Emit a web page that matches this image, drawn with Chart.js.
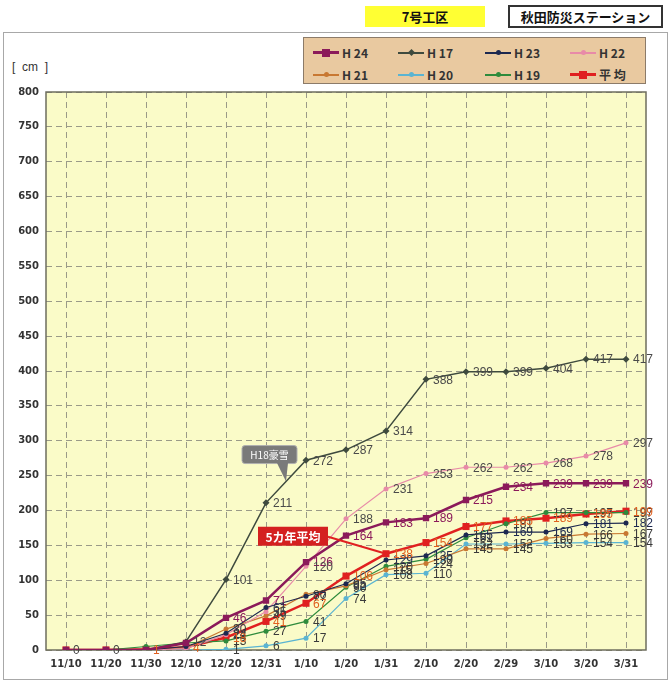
<!DOCTYPE html>
<html lang="ja">
<head>
<meta charset="utf-8" />
<script src="https://cdn.jsdelivr.net/npm/chart.js@4.4.1/dist/chart.umd.min.js"></script>
<style>
  body { margin:0; width:670px; height:682px; background:#fff; position:relative; overflow:hidden;
         font-family:"Liberation Sans", Arial, sans-serif; }
  #frame { position:absolute; left:3px; top:32px; width:665px; height:648px; border:1px solid #a8a8a8; box-sizing:border-box; }
  #kouku { position:absolute; left:365px; top:6px; width:120px; height:21px; background:#ffff33;
           font:bold 13px "Noto Sans CJK JP"; text-align:center; line-height:21px; color:#111; }
  #station { position:absolute; left:508px; top:5px; width:155px; height:23px; border:2px solid #333; box-sizing:border-box;
             font:bold 13px "Noto Sans CJK JP"; text-align:center; line-height:19px; color:#111; background:#fff; }
  #unit { position:absolute; left:12px; top:60px; font-size:12px; color:#333; white-space:pre; }
  #legend { position:absolute; left:303px; top:37px; width:343px; height:47px; background:#e9c9a0;
            border:1px solid #8c7b69; box-sizing:border-box; z-index:2; }
  .item { position:absolute; height:14px; }
  .item .ln { position:absolute; left:0; top:7px; width:26px; }
  .item .mk { position:absolute; }
  .item .tx { position:absolute; left:29px; top:-1px; font:bold 12px "Noto Sans CJK JP", "Liberation Sans"; color:#333; white-space:pre; }
  #chartBox { position:absolute; left:0; top:0; width:670px; height:682px; z-index:1; }
</style>
</head>
<body>
<div id="frame"></div>
<div id="kouku">7号工区</div>
<div id="station">秋田防災ステーション</div>
<div id="unit">[  cm  ]</div>
<div id="legend"></div>
<div id="chartBox"><canvas id="myChart" width="670" height="682"></canvas></div>

<script>
// 時期(横軸)
var xLabels = ['11/10','11/20','11/30','12/10','12/20','12/31','1/10','1/20','1/31','2/10','2/20','2/29','3/10','3/20','3/31'];

// 各年の積雪深 [cm]
var h24 = [0,0,0,10,46,71,126,164,183,189,215,234,239,239,239];
var h17 = [0,0,0,12,101,211,272,287,314,388,399,399,404,417,417];
var h23 = [0,0,0,5,24,61,77,95,129,135,165,169,169,181,182];
var h22 = [0,0,0,2,22,55,120,188,231,253,262,262,268,278,297];
var h21 = [0,0,0,3,30,49,80,92,115,124,145,145,160,166,167];
var h20 = [0,0,0,0,1,6,17,74,108,110,152,152,153,154,154];
var h19 = [0,0,5,10,13,27,41,90,120,130,161,181,197,197,197];
var avg5 = [0,0,1,4,18,41,67,106,138,154,177,185,189,195,199];

var seriesNames = ['H 24','H 17','H 23','H 22','H 21','H 20','H 19','平 均'];
var seriesData = [h24,h17,h23,h22,h21,h20,h19,avg5];
var yTicksMax = 800, yTicksStep = 50;

// 見た目
var colors    = ['#8b1a5a','#3e4a3e','#1c2850','#e88aa8','#c87832','#5ab4d2','#2e8b3c','#e02020'];
var lblColors = ['#8b1a5a','#4a4a4a','#1c2850','#4a4a4a','#3a3a3a','#3a3a3a','#3a3a3a','#e06020'];
var styles    = ['rect','rectRot','circle','circle','circle','circle','circle','rect'];
var radii     = [4.5,3.5,2.5,2.5,2.5,2.5,2.5,5];
var widths    = [2.5,1.5,1.2,1.2,1.2,1.2,1.2,2.5];
var labelFrom = [4,3,4,4,4,4,4,0];
var tickFont  = { size: 10, weight: 'bold', family: '"DejaVu Sans", sans-serif' };

// 凡例 (HTML)
var leg = document.getElementById('legend');
var colX = [9, 94, 181, 266], rowY = [7, 29];
seriesNames.forEach(function (n, i) {
    var it = document.createElement('div');
    it.className = 'item';
    it.style.left = colX[i % 4] + 'px';
    it.style.top = rowY[Math.floor(i / 4)] + 'px';
    var ln = document.createElement('div');
    ln.className = 'ln';
    ln.style.height = widths[i] > 2 ? '3px' : '1.5px';
    ln.style.marginTop = widths[i] > 2 ? '-1px' : '0';
    ln.style.background = colors[i];
    var mk = document.createElement('div');
    mk.className = 'mk';
    var s = styles[i] == 'rect' ? 8 : 5;
    mk.style.width = s + 'px'; mk.style.height = s + 'px';
    mk.style.left = (13 - s / 2) + 'px'; mk.style.top = (7.5 - s / 2) + 'px';
    mk.style.background = colors[i];
    if (styles[i] == 'circle') mk.style.borderRadius = '50%';
    if (styles[i] == 'rectRot') mk.style.transform = 'rotate(45deg)';
    var tx = document.createElement('div');
    tx.className = 'tx';
    tx.textContent = n;
    it.appendChild(ln); it.appendChild(mk); it.appendChild(tx);
    leg.appendChild(it);
});

// 背景と枠
var areaPlugin = {
    id: 'area',
    beforeDraw: function (chart) {
        var a = chart.chartArea, c = chart.ctx;
        c.save();
        c.fillStyle = '#fafbc8';
        c.fillRect(a.left, a.top, a.right - a.left, a.bottom - a.top);
        c.restore();
    },
    beforeDatasetsDraw: function (chart) {
        var a = chart.chartArea, c = chart.ctx;
        c.save();
        c.strokeStyle = '#6e6e5e';
        c.lineWidth = 1.5;
        c.strokeRect(a.left, a.top, a.right - a.left, a.bottom - a.top);
        c.restore();
    }
};

// 値ラベル
var valuePlugin = {
    id: 'values',
    afterDatasetsDraw: function (chart) {
        var c = chart.ctx;
        c.save();
        c.font = '12px "Liberation Sans", Arial, sans-serif';
        c.textBaseline = 'middle';
        chart.data.datasets.forEach(function (ds, d) {
            var meta = chart.getDatasetMeta(d);
            meta.data.forEach(function (el, i) {
                if (i < labelFrom[d]) return;
                c.fillStyle = ds.data[i] == 0 ? '#444' : lblColors[d];
                c.fillText(String(ds.data[i]), el.x + 7, el.y + 1);
            });
        });
        c.restore();
    }
};

// 吹き出し
var notePlugin = {
    id: 'notes',
    afterDraw: function (chart) {
        var c = chart.ctx;
        // H18豪雪 : H17 の 12/31 と 1/10 の中間
        var m = chart.getDatasetMeta(1).data;
        var ax = (m[5].x + m[6].x) / 2, ay = (m[5].y + m[6].y) / 2;
        var bx = ax - 44, by = ay - 36, bw = 55, bh = 18;
        c.save();
        c.fillStyle = '#7a7a7a';
        c.strokeStyle = '#b0b0b0';
        c.lineWidth = 1;
        c.beginPath();
        c.roundRect(bx, by, bw, bh, 3);
        c.fill(); c.stroke();
        c.beginPath();
        c.moveTo(ax - 9, by + bh - 0.5);
        c.lineTo(ax + 2, by + bh - 0.5);
        c.lineTo(ax, ay);
        c.closePath();
        c.fill();
        c.fillStyle = '#fff';
        c.font = '10px "Noto Sans CJK JP"';
        c.textAlign = 'center';
        c.textBaseline = 'middle';
        c.fillText('H18豪雪', bx + bw / 2, by + bh / 2 + 1);
        // 5カ年平均 : 平均の 1/31
        var p = chart.getDatasetMeta(7).data[8];
        var rx = p.x - 128, ry = p.y - 27, rw = 70, rh = 19;
        c.strokeStyle = '#e02020';
        c.lineWidth = 2;
        c.beginPath();
        c.moveTo(rx + rw, ry + 10);
        c.lineTo(p.x, p.y);
        c.stroke();
        c.fillStyle = '#d42020';
        c.fillRect(rx, ry, rw, rh);
        c.fillStyle = '#fff';
        c.font = 'bold 12px "Noto Sans CJK JP"';
        c.fillText('5カ年平均', rx + rw / 2, ry + rh / 2 + 1);
        c.restore();
    }
};

var datasets = seriesData.map(function (arr, i) {
    return {
        label: seriesNames[i],
        data: arr,
        borderColor: colors[i],
        backgroundColor: colors[i],
        borderWidth: widths[i],
        pointStyle: styles[i],
        pointRadius: radii[i],
        pointBorderWidth: 0,
        tension: 0
    };
});

var ctx = document.getElementById('myChart');
var myChart = new Chart(ctx, {
    type: 'line',
    data: { labels: xLabels, datasets: datasets },
    options: {
        responsive: false,
        animation: false,
        devicePixelRatio: 1,
        layout: { padding: { top: 92, right: 24, bottom: 5, left: 0 } },
        plugins: { legend: { display: false }, tooltip: { enabled: false } },
        scales: {
            x: {
                offset: true,
                grid: { offset: false, color: '#9a9a88', lineWidth: 1, drawTicks: false },
                border: { display: false, dash: [6, 4] },
                ticks: { color: '#333', font: tickFont, padding: 8, maxRotation: 0, autoSkip: false },
                afterFit: function (s) { s.height = 27; }
            },
            y: {
                min: 0, max: yTicksMax,
                grid: { color: '#9a9a88', lineWidth: 1, drawTicks: false },
                border: { display: false, dash: [6, 4] },
                ticks: { stepSize: yTicksStep, color: '#333', padding: 7, font: tickFont },
                afterFit: function (s) { s.width = 46; }
            }
        }
    },
    plugins: [areaPlugin, valuePlugin, notePlugin]
});
</script>
</body>
</html>
